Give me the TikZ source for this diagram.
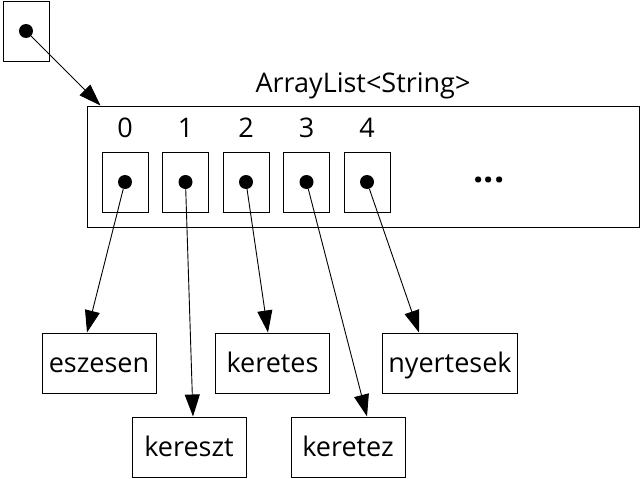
\documentclass[tikz,border=0pt]{standalone}
\usepackage{fontspec}
\setmainfont{Open Sans}
\usetikzlibrary{arrows.meta, positioning}

\begin{document}
\begin{tikzpicture}[x=1pt, y=-1pt,
    cell/.style={rectangle, draw, line width=1pt, minimum width=46pt, minimum height=60pt, inner sep=0pt},
    dot/.style={circle, fill=black, minimum size=14pt, inner sep=0pt},
    word/.style={rectangle, draw, line width=1pt, minimum width=114pt, minimum height=60pt, inner xsep=6pt, text height=18pt, text depth=0pt, font=\fontsize{27}{32}\selectfont},
    idx/.style={font=\fontsize{27}{32}\selectfont, anchor=base},
    arrow/.style={-{Triangle[length=22pt, width=15pt]}, line width=0.9pt}
]
    \useasboundingbox (0,0) rectangle (640,479);

    % Reference variable
    \node[cell] (ref) at (26, 31) {};
    \node[dot] (refdot) at (ref.center) {};

    % ArrayList object
    \node[rectangle, draw, line width=1pt, minimum width=552pt, minimum height=121pt] (list) at (363, 166.5) {};
    \node[idx] (title) at (363, 92) {ArrayList<String>};
    \draw[arrow] (refdot) -- ([xshift=14pt]list.north west);

    % Slots
    \node[cell] (c0) at (125, 182) {};
    \node[cell] (c1) at (185.5, 182) {};
    \node[cell] (c2) at (246, 182) {};
    \node[cell] (c3) at (306.5, 182) {};
    \node[cell] (c4) at (367, 182) {};
    \node[dot] (d0) at (c0.center) {};
    \node[dot] (d1) at (c1.center) {};
    \node[dot] (d2) at (c2.center) {};
    \node[dot] (d3) at (c3.center) {};
    \node[dot] (d4) at (c4.center) {};

    % Indices
    \node[idx] (i0) at (125, 137) {0};
    \node[idx] (i1) at (185.5, 137) {1};
    \node[idx] (i2) at (246, 137) {2};
    \node[idx] (i3) at (306.5, 137) {3};
    \node[idx] (i4) at (367, 137) {4};
    \node[idx, font=\fontsize{36}{42}\selectfont\bfseries] (more) at (489, 182) {...};

    % Strings
    \node[word] (esz) at (99, 363) {eszesen};
    \node[word] (kes) at (272.5, 363) {keretes};
    \node[word] (nye) at (450, 363) {nyertesek};
    \node[word] (ksz) at (189, 447) {kereszt};
    \node[word] (kez) at (348, 447) {keretez};

    % References from the slots
    \draw[arrow] (d0) -- ([xshift=-12pt]esz.north);
    \draw[arrow] (d1) -- ([xshift=4pt]ksz.north);
    \draw[arrow] (d2) -- ([xshift=-4.5pt]kes.north);
    \draw[arrow] (d3) -- ([xshift=19pt]kez.north);
    \draw[arrow] (d4) -- ([xshift=-31pt]nye.north);
\end{tikzpicture}
\end{document}
